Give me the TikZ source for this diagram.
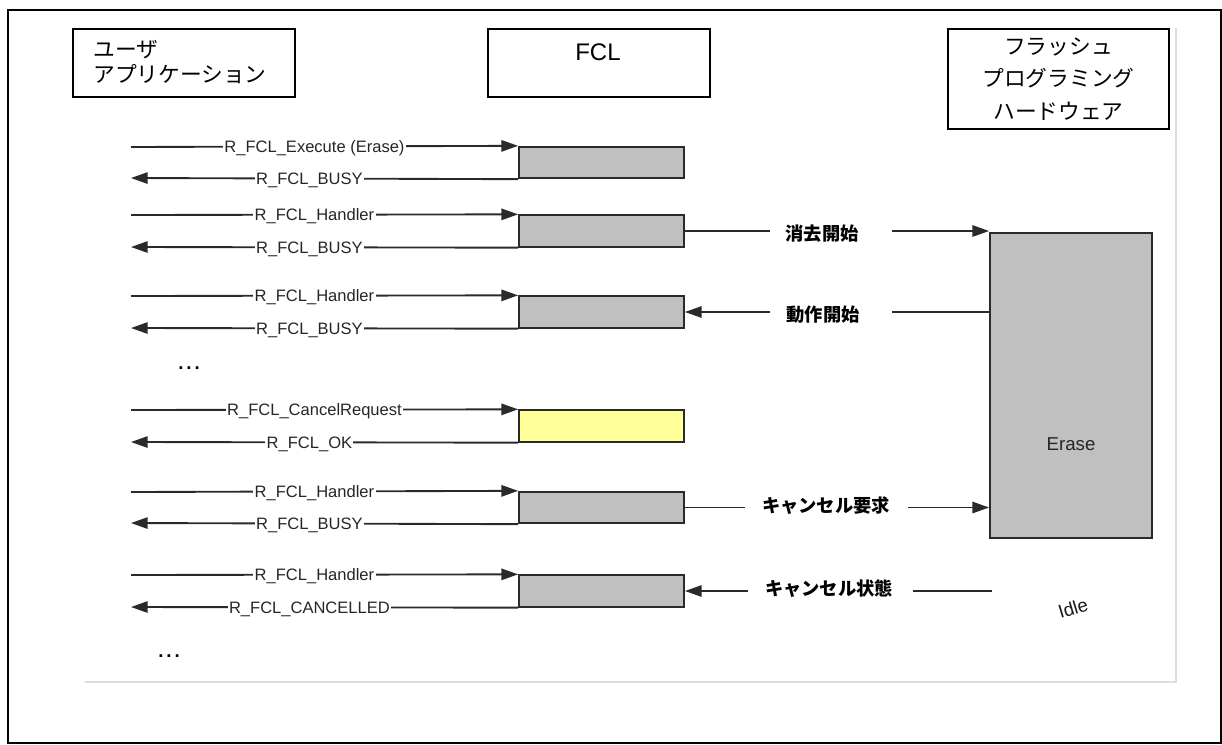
\documentclass[tikz,border=0pt]{standalone}
\usepackage{fontspec}
\setmainfont{Liberation Sans}
\newfontfamily\cjk{Noto Sans CJK JP}
\usetikzlibrary{arrows.meta}
\definecolor{boxgray}{HTML}{C0C0C0}
\definecolor{boxyel}{HTML}{FFFF99}
\definecolor{lineg}{HTML}{2A2A2A}
\definecolor{framegray}{HTML}{DDDDDD}
\begin{document}
\begin{tikzpicture}[x=0.75pt,y=-0.75pt,
  hdr/.style={draw=black, line width=1.7pt, inner sep=0pt},
  act/.style={draw=lineg, line width=1.4pt, fill=boxgray, inner sep=0pt, minimum width=123.75pt, minimum height=23.6pt},
  conn/.style={draw=lineg, line width=1.4pt},
  arr/.style={-{Triangle[length=12.5pt,width=8.5pt]}},
  lab/.style={fill=white, inner xsep=1pt, inner ysep=1pt, text height=8.9pt, text depth=0pt, font=\fontsize{12.4}{14}\selectfont, text=black!85},
  jlab/.style={font=\cjk\bfseries\fontsize{13.7}{16}\selectfont, inner sep=1pt}
]
\useasboundingbox (0,0) rectangle (1222,744);
\draw[line width=1.3pt] (8,10) rectangle (1221,743);
\draw[framegray, line width=0.8pt] (85,682) -- (1176,682) -- (1176,28);

% header boxes
\node[hdr, minimum width=166.5pt, minimum height=51pt] (ua) at (184,63) {};
\node[anchor=west, align=left, inner sep=0pt, font=\cjk\fontsize{16.3}{18.75}\selectfont] (uat) at (93,61.5) {ユーザ\\アプリケーション};
\node[hdr, minimum width=166.5pt, minimum height=51pt] (fcl) at (599,63) {};
\node[inner sep=0pt, font=\fontsize{18}{20}\selectfont] (fclt) at (598,52) {FCL};
\node[hdr, minimum width=165.75pt, minimum height=75pt, align=center, font=\cjk\fontsize{16.3}{24.4}\selectfont] (hw) at (1058.5,79) {フラッシュ\\プログラミング\\ハードウェア};

% FCL activity boxes
\node[act] (b1) at (601.5,162.5) {};
\node[act] (b2) at (601.5,231) {};
\node[act] (b3) at (601.5,312) {};
\node[act, fill=boxyel] (b4) at (601.5,426) {};
\node[act] (b5) at (601.5,507.5) {};
\node[act] (b6) at (601.5,591) {};

% left ends
\coordinate (s1) at (131,147);   \coordinate (e1) at (131,178);
\coordinate (s2) at (131,215);   \coordinate (e2) at (131,247);
\coordinate (s3) at (131,296);   \coordinate (e3) at (131,328);
\coordinate (s4) at (131,410);   \coordinate (e4) at (131,442);
\coordinate (s5) at (131,492);   \coordinate (e5) at (131,523);
\coordinate (s6) at (131,575);   \coordinate (e6) at (131,607);

\draw[conn, arr] (s1) -- (b1.north west) node[lab, pos=0.474] (l1a) {R\_FCL\_Execute (Erase)};
\draw[conn, arr] (b1.south west) -- (e1) node[lab, pos=0.539] (l1b) {R\_FCL\_BUSY};
\draw[conn, arr] (s2) -- (b2.north west) node[lab, pos=0.474] (l2a) {R\_FCL\_Handler};
\draw[conn, arr] (b2.south west) -- (e2) node[lab, pos=0.539] (l2b) {R\_FCL\_BUSY};
\draw[conn, arr] (s3) -- (b3.north west) node[lab, pos=0.474] (l3a) {R\_FCL\_Handler};
\draw[conn, arr] (b3.south west) -- (e3) node[lab, pos=0.539] (l3b) {R\_FCL\_BUSY};
\draw[conn, arr] (s4) -- (b4.north west) node[lab, pos=0.474] (l4a) {R\_FCL\_CancelRequest};
\draw[conn, arr] (b4.south west) -- (e4) node[lab, pos=0.539] (l4b) {R\_FCL\_OK};
\draw[conn, arr] (s5) -- (b5.north west) node[lab, pos=0.474] (l5a) {R\_FCL\_Handler};
\draw[conn, arr] (b5.south west) -- (e5) node[lab, pos=0.539] (l5b) {R\_FCL\_BUSY};
\draw[conn, arr] (s6) -- (b6.north west) node[lab, pos=0.474] (l6a) {R\_FCL\_Handler};
\draw[conn, arr] (b6.south west) -- (e6) node[lab, pos=0.539] (l6b) {R\_FCL\_CANCELLED};

% ellipses
\node[font=\bfseries\fontsize{14}{15}\selectfont] (d1) at (189,368) {.\kern2.2pt.\kern2.2pt.};
\node[font=\bfseries\fontsize{14}{15}\selectfont] (d2) at (169,656) {.\kern2.2pt.\kern2.2pt.};

% hardware
\node[act, minimum width=121.5pt, minimum height=228.75pt] (erase) at (1071,385.5) {};
\node[font=\fontsize{14}{15}\selectfont, text=black!85] (erl) at (1071,444) {Erase};
\node[rotate=17, font=\fontsize{14}{15}\selectfont, text=black!90] (idle) at (1073,608) {Idle};

% right connectors
\node[jlab] (j2) at (822,234) {消去開始};
\coordinate (c2a) at (770,231); \coordinate (c2b) at (892,231);
\draw[conn] (b2.east) -- (c2a);
\draw[conn, arr] (c2b) -- (erase.west |- b2.east);

\node[jlab] (j3) at (823,315) {動作開始};
\coordinate (c3a) at (770,312); \coordinate (c3b) at (892,312);
\draw[conn] (erase.west |- b3.east) -- (c3b);
\draw[conn, arr] (c3a) -- (b3.east);

\node[jlab] (j5) at (826,506) {キャンセル要求};
\coordinate (c5a) at (745,507.5); \coordinate (c5b) at (908,507.5);
\draw[conn] (b5.east) -- (c5a);
\draw[conn, arr] (c5b) -- (erase.west |- b5.east);

\node[jlab] (j6) at (829,589) {キャンセル状態};
\coordinate (c6a) at (748,591); \coordinate (c6b) at (913,591); \coordinate (c6e) at (992,591);
\draw[conn, arr] (c6a) -- (b6.east);
\draw[conn] (c6b) -- (c6e);
\end{tikzpicture}
\end{document}
